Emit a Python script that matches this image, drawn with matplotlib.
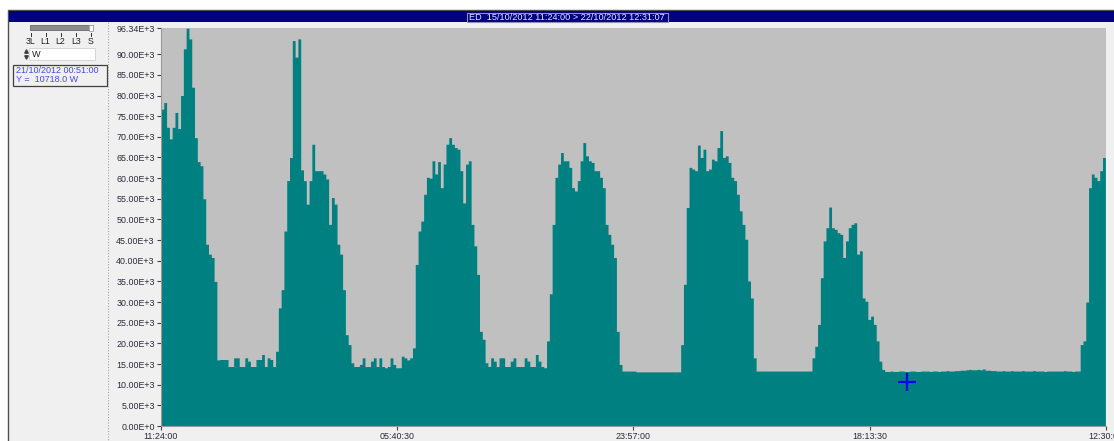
import matplotlib
matplotlib.use('Agg')
import numpy as np
from matplotlib import pyplot as plt
from matplotlib.patches import Rectangle

plt.rcParams['font.family'] = ['Liberation Sans', 'DejaVu Sans']

# power readings in kW, one sample every 30 min from 15/10/2012 11:24:00
step_h = 0.5
# 15/10 11:24 -> 16/10 05:24
power_a = [76.7, 78.3, 72.3, 69.5, 72.3, 75.9, 72.0, 80.0, 91.3, 96.3,
           93.7, 82.0, 69.8, 64.0, 63.0, 55.0, 44.0, 41.6, 40.8, 35.0,
           16.0, 16.1, 16.1, 16.1, 14.4, 14.4, 16.5, 16.5, 14.4, 14.4,
           16.5, 15.7, 14.4, 14.4, 16.1, 16.1, 17.3, 14.4, 16.5, 16.1,
           14.4, 18.1, 28.6, 33.0, 47.2, 59.4, 65.0, 93.3, 89.3, 93.7,
           62.0, 59.4, 53.7, 59.4, 68.2, 61.8, 61.8, 61.8, 61.0, 59.8,
           48.8, 55.3, 53.7, 44.0, 41.6, 33.0, 22.1, 19.7, 15.3, 14.4,
           14.4, 14.9, 16.5, 14.4, 14.4, 15.7, 16.5, 14.4, 16.5, 14.4,
           14.1, 14.4, 16.5, 14.9]
# 17/10 -> 18/10
power_b = [14.1, 14.1, 16.9, 16.5, 16.0, 16.5, 18.9, 39.1, 47.2, 49.6,
           56.1, 60.2, 60.0, 64.2, 61.0, 64.0, 57.7, 63.4, 68.2, 69.8,
           68.2, 67.4, 67.0, 61.8, 54.0, 63.4, 64.2, 48.8, 43.6, 36.7,
           22.9, 21.0, 15.3, 14.4, 16.5, 15.7, 14.4, 16.5, 16.5, 14.4,
           14.4, 15.7, 16.5, 14.4, 14.4, 14.4, 16.5, 15.7, 14.4, 14.4,
           17.3, 15.7, 14.4, 14.1, 20.6, 32.0, 48.8, 60.2, 63.4, 66.2,
           64.2, 64.2, 62.6, 57.7, 56.9, 59.4, 64.2, 68.6, 65.4, 64.2,
           63.8, 61.8, 61.8, 60.2, 57.7, 48.8, 46.4, 44.0, 40.8, 22.9,
           14.9, 13.3, 13.3, 13.3, 13.3, 13.3]
# 18/10 -> 20/10
power_c = [13.1, 13.1, 13.1, 13.1, 13.1, 13.1, 13.1, 13.1, 13.1, 13.1,
           13.1, 13.1, 13.1, 13.1, 13.1, 13.1,
           19.7, 34.3, 52.9, 62.6, 62.2, 61.8, 68.0, 65.0, 67.0, 61.8,
           62.2, 64.6, 64.2, 67.4, 71.5, 65.0, 65.4, 63.8, 60.2, 59.4,
           56.1, 52.1, 48.8, 45.2, 35.1, 31.0, 16.5,
           13.3, 13.3, 13.3, 13.3, 13.3, 13.3, 13.3, 13.3, 13.3, 13.3,
           13.3, 13.3, 13.3, 13.3, 13.3, 13.3, 13.3, 13.3, 13.3, 13.3,
           16.5, 19.3, 24.6, 35.9, 44.8, 48.0, 53.0, 48.0, 47.6, 46.8,
           46.4, 40.8, 44.8, 48.0, 48.8, 49.2, 41.6, 42.4, 31.0, 30.2,
           25.8, 26.6, 24.6]
# 20/10 -> 22/10 12:31
power_d = [20.6, 15.7, 13.7,
           13.2, 13.2, 13.3, 13.2, 13.2, 13.3, 13.3, 13.2, 13.2, 13.3,
           13.3, 13.2, 13.2, 13.3, 13.3, 13.3, 13.2, 13.3, 13.3, 13.2,
           13.3, 13.3, 13.4, 13.3, 13.3, 13.4, 13.4, 13.5, 13.5, 13.6,
           13.7, 13.6, 13.6, 13.7, 13.6, 13.8, 13.5, 13.5, 13.4, 13.4,
           13.3, 13.3, 13.4, 13.3, 13.3, 13.4, 13.3, 13.3, 13.3, 13.4,
           13.3, 13.3, 13.3, 13.4, 13.3, 13.3, 13.3, 13.2, 13.3, 13.3,
           13.3, 13.3, 13.3, 13.3, 13.4, 13.3, 13.3, 13.2, 13.3, 13.3,
           19.7, 20.6, 30.0, 57.7, 61.0, 60.2, 59.4, 61.8, 65.0, 60.2]

x_tick_hours = [0, 42.275, 84.55, 126.825, 169.1]
x_tick_labels = ['11:24:00', '05:40:30', '23:57:00', '18:13:30', '12:30:00']
y_ticks = [0, 5000, 10000, 15000, 20000, 25000, 30000, 35000, 40000, 45000,
           50000, 55000, 60000, 65000, 70000, 75000, 80000, 85000, 90000, 96340]
span_h = 169.12
cursor_h = 133.45
cursor_w = 10718.0
title = 'ED  15/10/2012 11:24:00 > 22/10/2012 12:31:07'
channels = ['3L', 'L1', 'L2', 'L3', 'S']

power = np.array(power_a + power_b + power_c + power_d) * 1000
hours = np.arange(len(power)) * step_h

W, H = 1114, 441
fig = plt.figure(figsize=(W / 100, H / 100), dpi=100)
fig.patch.set_facecolor('white')

# window chrome drawn in pixel coords
ui = fig.add_axes([0, 0, 1, 1])
ui.set_xlim(0, W)
ui.set_ylim(H, 0)
ui.axis('off')
ui.add_patch(Rectangle((8, 10), W, H, fc='#f0f0f0', ec='#505050', lw=1))
ui.add_patch(Rectangle((9, 11), W, 11, fc='#000080', ec='none'))
ui.add_patch(Rectangle((466.5, 12.5), 201, 9.5, fc='none', ec='#9090b8', lw=0.8))
ui.text(567, 17.2, title, color='#e6e6ff', fontsize=6.6, ha='center', va='center')
ui.plot([108, 108], [22, H], color='#a8a8a8', lw=0.8, ls=(0, (1, 1.5)))

# channel slider
ui.add_patch(Rectangle((29.5, 25), 63, 5, fc='#8c8c8c', ec='#6a6a6a', lw=0.6))
ui.add_patch(Rectangle((89, 24.5), 4, 6, fc='#fafafa', ec='#a0a0a0', lw=0.6))
for cx, name in zip([30.5, 45.5, 60.5, 76, 91], channels):
    ui.plot([cx, cx], [33, 36], color='#303030', lw=0.7)
    ui.text(cx, 41.5, name, fontsize=6.3, color='#202020', ha='center', va='center')

# unit spin box
ui.add_patch(Rectangle((29, 48), 66, 12, fc='white', ec='#d0d0d0', lw=0.6))
ui.text(32, 54.3, 'W', fontsize=6.6, color='#202020', va='center')
ui.plot([25.5], [51], marker='^', ms=2.5, color='#404040')
ui.plot([25.5], [57], marker='v', ms=2.5, color='#404040')

# cursor readout
ui.add_patch(Rectangle((12.5, 65), 94, 20.5, fc='#f0f0f0', ec='#404040', lw=0.9))
ui.text(15.5, 70.8, '21/10/2012 00:51:00', fontsize=6.5, color='#4848f0', va='center')
ui.text(15.5, 79.8, 'Y =  10718.0 W', fontsize=6.5, color='#4848f0', va='center')

# main plot
left, right, top, bottom = 161, 1106, 28, 426
ax = fig.add_axes([left / W, (H - bottom) / H, (right - left) / W, (bottom - top) / H])
ax.set_facecolor('#c0c0c0')
ax.fill_between(hours, 0, power, step='post', color='#008080', lw=0)
ax.plot([cursor_h], [cursor_w], marker='+', ms=12.5, mew=1.6, color='#0000ff')
ax.set_xlim(0, span_h)
ax.set_ylim(0, 96340)
ax.set_yticks(y_ticks)
ax.set_yticklabels(['0.00E+0'] + ['%.2fE+3' % (v / 1000) for v in y_ticks[1:]])
ax.set_xticks(x_tick_hours)
ax.set_xticklabels(x_tick_labels)
ax.tick_params(axis='both', direction='out', length=3, width=0.8, color='#404040',
               labelsize=6.4, labelcolor='#2a2a3a', pad=1.5)
for side in ['top', 'right']:
    ax.spines[side].set_visible(False)
for side in ['left', 'bottom']:
    ax.spines[side].set_color('#9a9a9a')
    ax.spines[side].set_linewidth(0.8)

fig.savefig('out.png', dpi=100)
